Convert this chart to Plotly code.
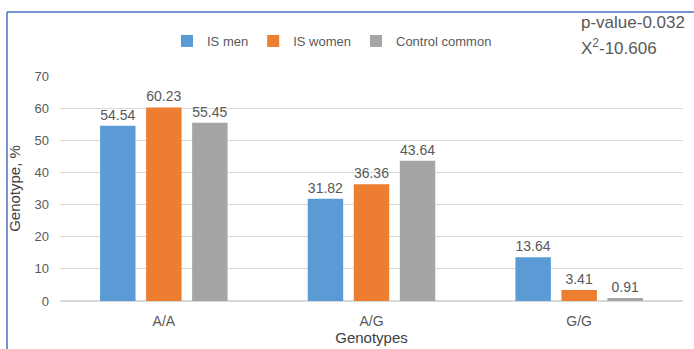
import plotly.graph_objects as go

categories = ["A/A", "A/G", "G/G"]
is_men = [54.54, 31.82, 13.64]
is_women = [60.23, 36.36, 3.41]
control_common = [55.45, 43.64, 0.91]
series_names = ["IS men", "IS women", "Control common"]
colors = ["#5B9BD5", "#ED7D31", "#A5A5A5"]
y_ticks = [0, 10, 20, 30, 40, 50, 60, 70]

FONT = "Liberation Sans, Arial, sans-serif"
GRAY = "#595959"

fig = go.Figure()
for name, vals, col in zip(series_names, [is_men, is_women, control_common], colors):
    fig.add_trace(go.Bar(
        x=categories, y=vals, name=name, marker_color=col,
        marker_line=dict(width=8, color="rgba(0,0,0,0)"),
        text=[f"{v:.2f}" for v in vals],
        textposition="outside",
        textfont=dict(size=14, color=GRAY, family=FONT),
        cliponaxis=False,
    ))

L, R, T, B = 60, 11, 76, 48
W, H = 694, 349
pw, ph = W - L - R, H - T - B

def px(x):
    return (x - L) / pw

def py(y):
    return (H - B - y) / ph

fig.update_layout(
    width=W, height=H,
    margin=dict(l=L, r=R, t=T, b=B, autoexpand=False),
    paper_bgcolor="white", plot_bgcolor="white",
    font=dict(family=FONT, color=GRAY, size=13),
    barmode="group", bargap=0.335, bargroupgap=0.23,
    showlegend=True,
    legend=dict(orientation="h", x=px(332), xanchor="center", y=py(41), yanchor="middle",
                font=dict(size=13, color=GRAY, family=FONT), itemwidth=30,
                traceorder="normal"),
    yaxis=dict(range=[0, 70], tickvals=y_ticks, showgrid=True, gridcolor="#D9D9D9",
               gridwidth=1, zeroline=True, zerolinecolor="#D9D9D9", showline=False,
               tickfont=dict(size=13, color=GRAY), ticks="", automargin=False,
               ticklabelstandoff=10,
               title=dict(text="Genotype, %", font=dict(size=15, color="#404040"), standoff=10)),
    xaxis=dict(showline=False, ticks="", tickfont=dict(size=14, color=GRAY), automargin=False,
               ticklabelstandoff=10,
               title=dict(text="Genotypes", font=dict(size=15, color="#404040"), standoff=4)),
    annotations=[
        dict(text="p-value-0.032", x=px(579), y=py(22), xref="paper", yref="paper",
             xanchor="left", yanchor="middle", showarrow=False,
             font=dict(size=17, color=GRAY, family=FONT)),
        dict(text="X<sup>2</sup>-10.606", x=px(579), y=py(47), xref="paper", yref="paper",
             xanchor="left", yanchor="middle", showarrow=False,
             font=dict(size=17, color=GRAY, family=FONT)),
    ],
    shapes=[
        dict(type="line", xref="paper", yref="paper", x0=px(7), x1=px(W + 5), y0=py(12), y1=py(12),
             line=dict(color="#4472C4", width=1.5)),
        dict(type="line", xref="paper", yref="paper", x0=px(7), x1=px(7), y0=py(12), y1=py(H + 5),
             line=dict(color="#4472C4", width=1.5)),
    ],
)

fig.write_html("out.html")
